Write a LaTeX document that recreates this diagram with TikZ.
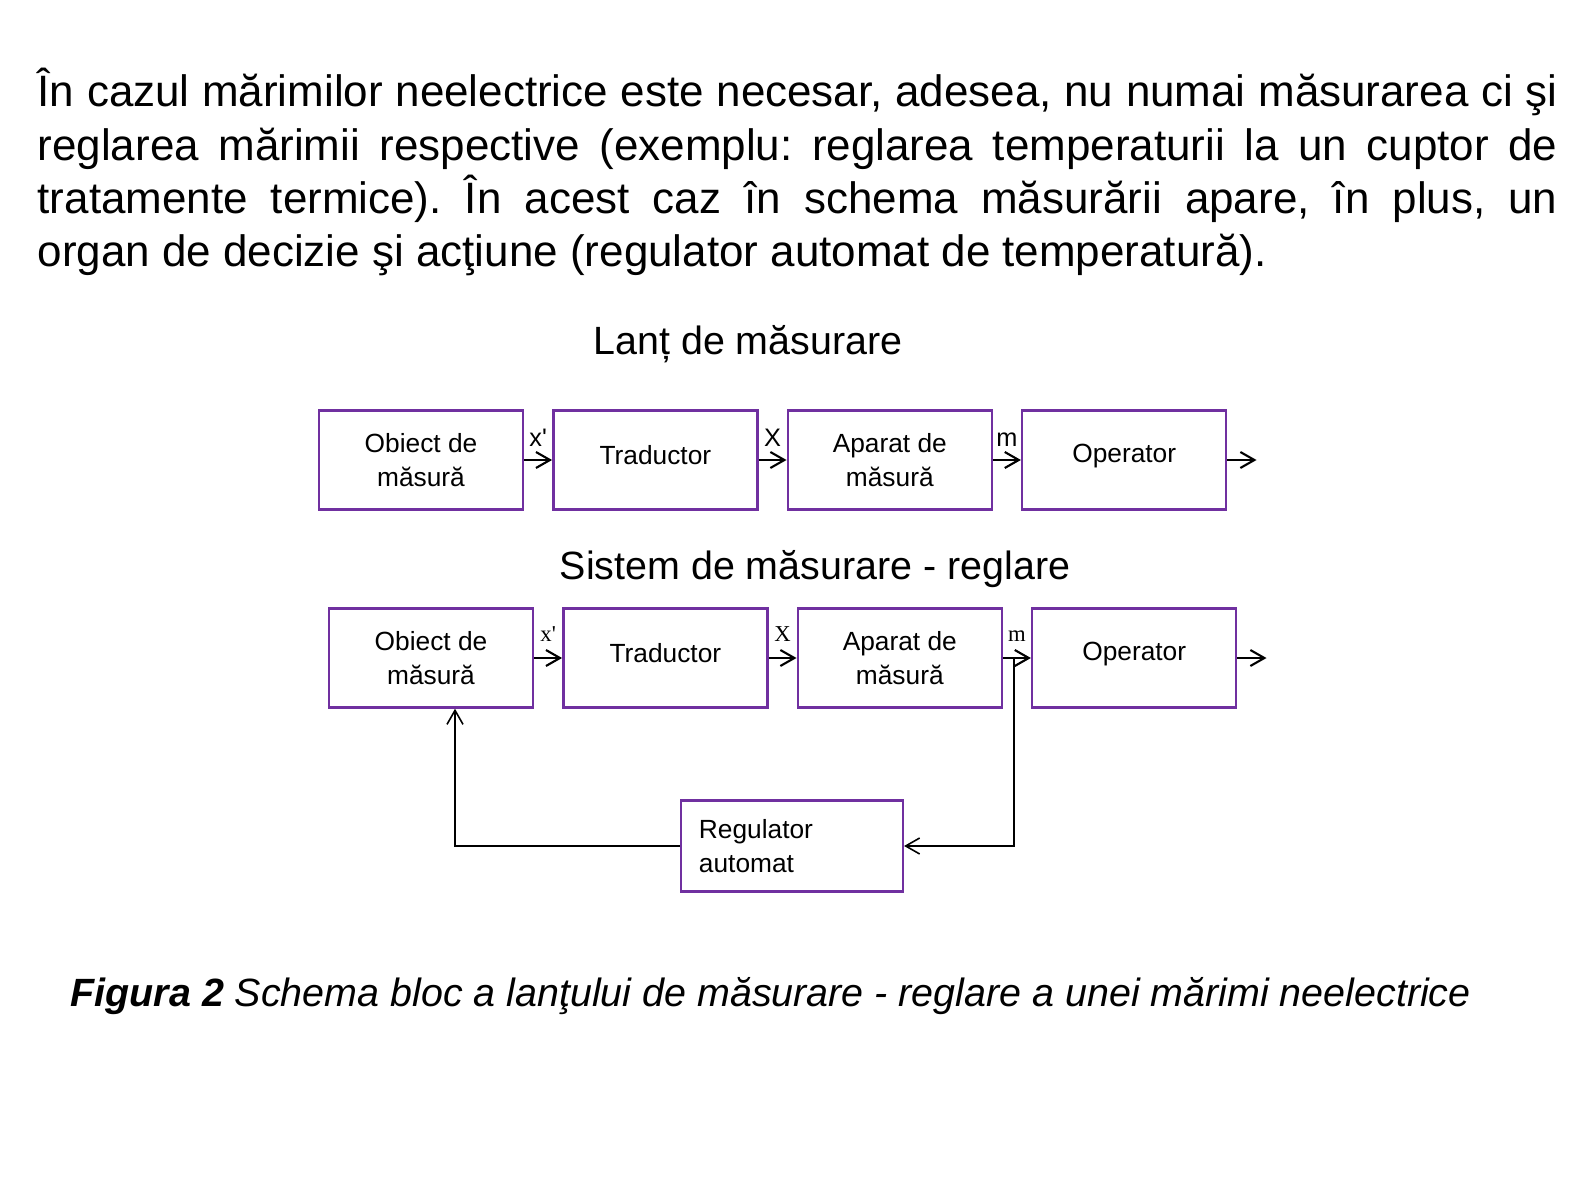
\documentclass[tikz,border=0pt]{standalone}
\usepackage{fontspec}
\setmainfont{Liberation Sans}
\newfontfamily\labelserif{Liberation Serif}
\usetikzlibrary{arrows.meta, positioning}
\definecolor{boxpurple}{RGB}{112,48,160}
\tikzset{
  block/.style = {rectangle, draw=boxpurple, line width=0.7pt, minimum width=2.04cm, minimum height=0.99cm, align=center, inner sep=2pt, font=\fontsize{7.48}{9.47}\selectfont},
  regblock/.style = {rectangle, draw=boxpurple, line width=0.7pt, text width=1.86cm, inner xsep=1.78mm, minimum height=0.91cm, align=left, font=\fontsize{7.48}{9.47}\selectfont},
  connector/.style = {line width=0.6pt, -{Straight Barb[length=1.4mm,width=1.6mm]}},
  feedback/.style = {line width=0.45pt, -{Straight Barb[length=1.4mm,width=1.6mm]}},
  siglabel/.style = {midway, above, inner sep=0pt, yshift=1.2mm, font=\fontsize{7.2}{8}\selectfont},
  serlabel/.style = {midway, above, inner sep=0pt, yshift=1.5mm, font=\labelserif\fontsize{6.45}{7}\selectfont},
  heading/.style = {anchor=base, inner sep=0pt, font=\fontsize{11.21}{13}\selectfont}
}

\begin{document}
\begin{tikzpicture}[x=0.01cm, y=-0.01cm, node distance=0mm and 2.78mm]

  \useasboundingbox (0,0) rectangle (1584,1188);

  % Introductory paragraph
  \node[anchor=base west, inner sep=0pt, text width=15.19cm, align=justify, font=\fontsize{12.5}{15.17}\selectfont] (intro) at (37,106.7) {\frenchspacing\hyphenpenalty=10000\exhyphenpenalty=10000
    În cazul mărimilor neelectrice este necesar, adesea, nu numai măsurarea ci şi\linebreak
    reglarea mărimii respective (exemplu: reglarea temperaturii la un cuptor de\linebreak
    tratamente termice). În acest caz în schema măsurării apare, în plus, un\linebreak
    organ de decizie şi acţiune (regulator automat de temperatură).};

  % Measuring chain
  \node[heading] (title1) at (748,355) {Lanț de măsurare};

  \node (ob1) [block] at (421,460) {Obiect de\\măsură};
  \node (tr1) [block, right=of ob1] {\raisebox{3pt}{Traductor}};
  \node (ap1) [block, right=of tr1] {Aparat de\\măsură};
  \node (op1) [block, right=of ap1] {\raisebox{4pt}{Operator}};
  \coordinate (end1) at ([xshift=2.9mm]op1.east);

  \draw[connector] (ob1) -- node[siglabel] {x\textquotesingle} (tr1);
  \draw[connector] (tr1) -- node[siglabel] {X} (ap1);
  \draw[connector] (ap1) -- node[siglabel] {m} (op1);
  \draw[connector] (op1.east) -- (end1);

  % Measuring - control system
  \node[heading] (title2) at (815,580) {Sistem de măsurare - reglare};

  \node (ob2) [block] at (431,658) {Obiect de\\măsură};
  \node (tr2) [block, right=of ob2] {\raisebox{3pt}{Traductor}};
  \node (ap2) [block, right=of tr2] {Aparat de\\măsură};
  \node (op2) [block, right=of ap2] {\raisebox{4pt}{Operator}};
  \coordinate (end2) at ([xshift=2.9mm]op2.east);

  \node (reg) [regblock] at (792,846) {Regulator\\automat};

  \draw[connector] (ob2) -- node[serlabel] {x\textquotesingle} (tr2);
  \draw[connector] (tr2) -- node[serlabel] {X} (ap2);
  \draw[connector] (ap2) -- node[serlabel] {m} (op2);
  \draw[connector] (op2.east) -- (end2);

  % Feedback loop through the controller
  \coordinate (tap) at ([xshift=1.1mm]ap2.east);
  \coordinate (fbin) at ([xshift=2.4mm]ob2.south);
  \draw[feedback] (tap) |- (reg.east);
  \draw[feedback] (reg.west) -| (fbin);

  % Caption
  \node[anchor=base west, inner sep=0pt, font=\fontsize{11.21}{13}\selectfont\itshape] (caption) at (70,1006) {{\bfseries Figura 2} Schema bloc a lanţului de măsurare - reglare a unei mărimi neelectrice};

\end{tikzpicture}
\end{document}
